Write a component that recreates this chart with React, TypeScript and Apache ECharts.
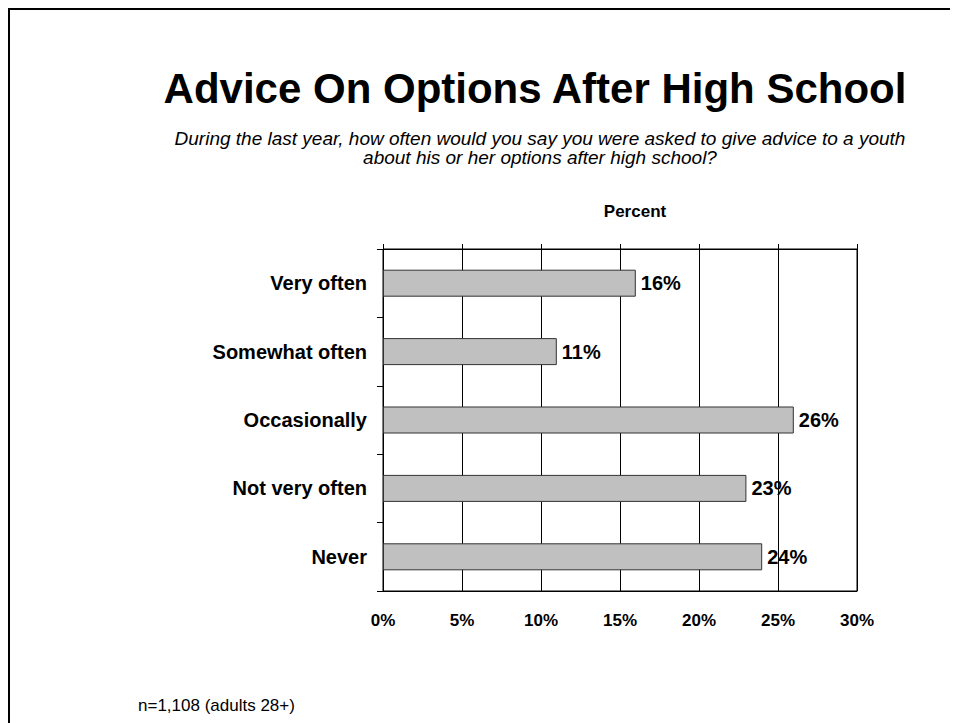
import React, { useEffect, useRef } from "react";
import * as echarts from "echarts";

const categories = ["Very often", "Somewhat often", "Occasionally", "Not very often", "Never"];
const values = [16, 11, 26, 23, 24];
const titleText = "Advice On Options After High School";
const subtitleLines = [
  "During the last year, how often would you say you were asked to give advice to a youth",
  "about his or her options after high school?",
];
const axisTitle = "Percent";
const noteText = "n=1,108 (adults 28+)";

const FONT = "'Liberation Sans', Arial, sans-serif";

export default function App() {
  const ref = useRef<HTMLDivElement>(null);
  useEffect(() => {
    if (!ref.current) return;
    const chart = echarts.init(ref.current, null, { renderer: "svg" });
    chart.setOption({
      animation: false,
      backgroundColor: "#ffffff",
      textStyle: { fontFamily: FONT },
      grid: {
        left: 373,
        top: 239,
        right: 101,
        bottom: 132,
        show: true,
        borderColor: "#000",
        borderWidth: 1,
        containLabel: false,
      },
      xAxis: [
        {
          type: "value",
          position: "bottom",
          min: 0,
          max: 30,
          interval: 5,
          axisLine: { show: true, lineStyle: { color: "#000", width: 1 } },
          axisTick: { show: false },
          splitLine: { show: true, lineStyle: { color: "#000", width: 1 } },
          axisLabel: {
            formatter: "{value}%",
            color: "#000",
            fontWeight: "bold",
            fontSize: 17,
            fontFamily: FONT,
            margin: 21,
          },
        },
        {
          type: "value",
          position: "top",
          min: 0,
          max: 30,
          interval: 5,
          axisLine: { show: true, lineStyle: { color: "#000", width: 1 } },
          axisTick: { show: true, length: 5, inside: false, lineStyle: { color: "#000" } },
          splitLine: { show: false },
          axisLabel: { show: false },
        },
      ],
      yAxis: {
        type: "category",
        data: categories,
        inverse: true,
        axisLine: { show: true, lineStyle: { color: "#000", width: 1 } },
        axisTick: { show: true, length: 6, alignWithLabel: false, lineStyle: { color: "#000" } },
        splitLine: { show: false },
        axisLabel: {
          color: "#000",
          fontWeight: "bold",
          fontSize: 20,
          fontFamily: FONT,
          margin: 16,
        },
      },
      series: [
        {
          type: "bar",
          data: values,
          xAxisIndex: 0,
          barWidth: 27,
          itemStyle: { color: "#c0c0c0", borderColor: "#333", borderWidth: 1 },
          label: {
            show: true,
            position: "right",
            distance: 5,
            formatter: "{c}%",
            color: "#000",
            fontWeight: "bold",
            fontSize: 20,
            fontFamily: FONT,
          },
        },
      ],
      graphic: [
        {
          type: "text",
          x: 525,
          y: 78,
          style: {
            text: titleText,
            fill: "#000",
            font: `bold 42px ${FONT}`,
            textAlign: "center",
            textVerticalAlign: "middle",
          },
        },
        {
          type: "text",
          x: 530,
          y: 138,
          style: {
            text: subtitleLines.join("\n"),
            fill: "#000",
            font: `italic 19px ${FONT}`,
            lineHeight: 19,
            textAlign: "center",
            textVerticalAlign: "middle",
          },
        },
        {
          type: "text",
          x: 625,
          y: 201,
          style: {
            text: axisTitle,
            fill: "#000",
            font: `bold 17px ${FONT}`,
            textAlign: "center",
            textVerticalAlign: "middle",
          },
        },
        {
          type: "text",
          x: 128,
          y: 695,
          style: {
            text: noteText,
            fill: "#000",
            font: `17px ${FONT}`,
            textAlign: "left",
            textVerticalAlign: "middle",
          },
        },
      ],
    });
    return () => {
      chart.dispose();
    };
  }, []);
  return (
    <div
      style={{
        width: 948,
        height: 713,
        borderTop: "2px solid #000",
        borderLeft: "2px solid #000",
        overflow: "hidden",
      }}
    >
      <div ref={ref} style={{ width: 948, height: 713 }} />
    </div>
  );
}
